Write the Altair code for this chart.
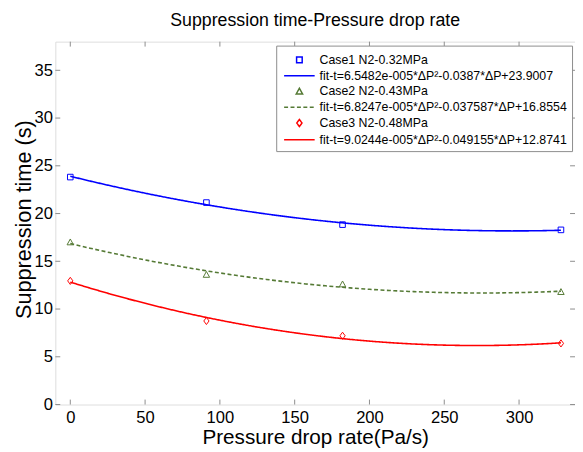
import altair as alt
import pandas as pd

# ---- data ----
pressure_rate = [0, 91, 182, 328]
case1_time = [23.82, 21.15, 18.84, 18.29]
case2_time = [17.0, 13.6, 12.6, 11.8]
case3_time = [12.95, 8.75, 7.2, 6.4]

case_labels = ["Case1 N2-0.32MPa", "Case2 N2-0.43MPa", "Case3 N2-0.48MPa"]
fit_labels = [
    "fit-t=6.5482e-005*ΔP²-0.0387*ΔP+23.9007",
    "fit-t=6.8247e-005*ΔP²-0.037587*ΔP+16.8554",
    "fit-t=9.0244e-005*ΔP²-0.049155*ΔP+12.8741",
]
series_colors = ["#0000ff", "#557a35", "#ff0000"]
x_ticks = [0, 50, 100, 150, 200, 250, 300]
y_ticks = [0, 5, 10, 15, 20, 25, 30, 35]

rows = []
for times, case, fit in zip([case1_time, case2_time, case3_time], case_labels, fit_labels):
    for p, t in zip(pressure_rate, times):
        rows.append({"x": p, "y": t, "case": case, "fit": fit})
df = pd.DataFrame(rows)

entries = [case_labels[0], fit_labels[0], case_labels[1], fit_labels[1], case_labels[2], fit_labels[2]]
entry_colors = [series_colors[0]] * 2 + [series_colors[1]] * 2 + [series_colors[2]] * 2

SQUARE = "M-0.33,-0.33H0.33V0.33H-0.33Z"
TRI = "M0,-0.38L0.38,0.31L-0.38,0.31Z"
DIAMOND = "M0,-0.42L0.31,0L0,0.42L-0.31,0Z"
LINE = "M-1.8,0H1.8"
entry_shapes = [SQUARE, LINE, TRI, LINE, DIAMOND, LINE]
entry_dash = [[1, 0], [1, 0], [1, 0], [4, 2.5], [1, 0], [1, 0]]
SYM = 296

W, H = 527, 368
FONT = "Liberation Sans"
AXIS_GRAY = "#8c8c8c"
X_TITLE = "Pressure drop rate(Pa/s)"
Y_TITLE = "Suppression time (s)"

xscale = alt.Scale(domain=[-10, 337.4], nice=False, zero=False)
yscale = alt.Scale(domain=[0, 38], nice=False, zero=False)

color_scale = alt.Scale(domain=entries, range=entry_colors)
shape_scale = alt.Scale(domain=entries, range=entry_shapes)
dash_scale = alt.Scale(domain=entries, range=entry_dash)

legend = alt.Legend(
    title=None, orient="none", legendX=224, legendY=4, direction="vertical",
    labelFont=FONT, labelFontSize=12.5, labelColor="#000000", labelLimit=400,
    labelOffset=11, rowPadding=0, padding=5, symbolOffset=9,
    strokeColor=AXIS_GRAY, fillColor="white",
    symbolSize=SYM, symbolStrokeWidth=1.5, symbolOpacity=1, symbolFillColor="transparent",
)

xaxis = alt.Axis(values=x_ticks, ticks=False, tickSize=0, domain=False, grid=False,
                 labelFont=FONT, labelFontSize=16.8, labelColor="#000000", labelPadding=5,
                 labelFlush=False, titleFont=FONT, titleFontSize=21, titleFontWeight="normal",
                 titleColor="#000000", titleBaseline="alphabetic", titleY=40)
yaxis = alt.Axis(values=y_ticks, ticks=False, tickSize=0, domain=False, grid=False,
                 labelFont=FONT, labelFontSize=16.8, labelColor="#000000", labelPadding=3,
                 labelFlush=False, titleFont=FONT, titleFontSize=22, titleFontWeight="normal",
                 titleColor="#000000", titleBaseline="alphabetic", titleX=-25, titleY=180)

xt = pd.DataFrame({"x": x_ticks})
yt = pd.DataFrame({"y": y_ticks})

tick_bottom = alt.Chart(xt).mark_rule(color=AXIS_GRAY, strokeWidth=1).encode(
    x=alt.X("x:Q", scale=xscale, axis=xaxis, title=X_TITLE), y=alt.value(H), y2=alt.value(H - 5))
tick_top = alt.Chart(xt).mark_rule(color=AXIS_GRAY, strokeWidth=1).encode(
    x=alt.X("x:Q", scale=xscale, axis=xaxis, title=X_TITLE), y=alt.value(0), y2=alt.value(5))
tick_left = alt.Chart(yt).mark_rule(color=AXIS_GRAY, strokeWidth=1).encode(
    y=alt.Y("y:Q", scale=yscale, axis=yaxis, title=Y_TITLE), x=alt.value(0), x2=alt.value(5))
tick_right = alt.Chart(yt).mark_rule(color=AXIS_GRAY, strokeWidth=1).encode(
    y=alt.Y("y:Q", scale=yscale, axis=yaxis, title=Y_TITLE), x=alt.value(W), x2=alt.value(W - 5))

lines = alt.Chart(df).transform_regression(
    "x", "y", groupby=["fit"], method="poly", order=2
).mark_line(strokeWidth=1.6).encode(
    x=alt.X("x:Q", scale=xscale, axis=xaxis, title=X_TITLE),
    y=alt.Y("y:Q", scale=yscale, axis=yaxis, title=Y_TITLE),
    color=alt.Color("fit:N", scale=color_scale, legend=legend),
    strokeDash=alt.StrokeDash("fit:N", scale=dash_scale, legend=legend),
)

points = alt.Chart(df).mark_point(filled=False, size=SYM, strokeWidth=1, opacity=1).encode(
    x=alt.X("x:Q", scale=xscale, axis=xaxis, title=X_TITLE),
    y=alt.Y("y:Q", scale=yscale, axis=yaxis, title=Y_TITLE),
    color=alt.Color("case:N", scale=color_scale, legend=legend),
    shape=alt.Shape("case:N", scale=shape_scale, legend=legend),
)

chart = alt.layer(tick_bottom, tick_top, tick_left, tick_right, lines, points).properties(
    width=W, height=H,
    autosize="none",
    padding={"left": 48, "top": 31, "right": 0, "bottom": 45},
    title=alt.TitleParams(
        "Suppression time-Pressure drop rate", font=FONT, fontSize=18, fontWeight="normal",
        color="#000000", anchor="middle", frame="group", baseline="alphabetic", offset=12, dy=15,
    ),
).configure_view(stroke=AXIS_GRAY, strokeWidth=1).configure(background="white")

chart.save("out.html", embed_options={"renderer": "svg", "actions": False})
